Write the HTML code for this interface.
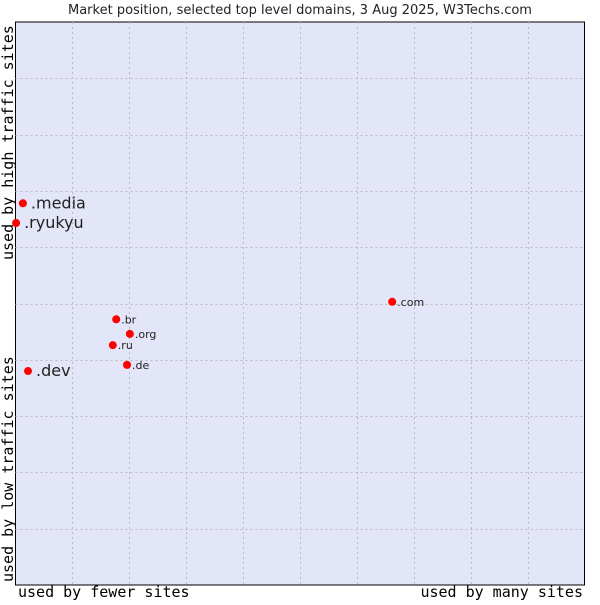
<!DOCTYPE html>
<html><head><meta charset="utf-8"><style>
body{margin:0;background:#fff;}
svg text{font-family:"DejaVu Sans","Liberation Sans",sans-serif;fill:#222;}
.mono{font-family:"DejaVu Sans Mono","Liberation Mono",monospace;font-size:15px;fill:#000;}
</style></head><body>
<svg id="chart" width="600" height="600" xmlns="http://www.w3.org/2000/svg">
<rect width="600" height="600" fill="#fff"/>
<text x="300" y="14" text-anchor="middle" font-size="13">Market position, selected top level domains, 3 Aug 2025, W3Techs.com</text>
<rect x="15.5" y="22" width="569" height="563" fill="#e3e5f8" stroke="#000" stroke-width="1"/>
<g id="grid"></g>
<g id="points"></g>
<text class="mono" x="18" y="597">used by fewer sites</text>
<text class="mono" x="583" y="597" text-anchor="end">used by many sites</text>
<text class="mono" transform="translate(13,260) rotate(-90)">used by high traffic sites</text>
<text class="mono" transform="translate(13,582) rotate(-90)">used by low traffic sites</text>
</svg>
<script>
const labels = [".media", ".ryukyu", ".dev", ".br", ".org", ".ru", ".de", ".com"];
const xValues = [0.13, 0.01, 0.22, 1.77, 2.01, 1.71, 1.96, 6.62];
const yValues = [6.78, 6.43, 3.80, 4.72, 4.46, 4.26, 3.91, 5.03];
const bigLabel = [true, true, true, false, false, false, false, false];
const X0=15.5, X1=584.5, Y0=585, Y1=22;
function sx(v){return X0+(X1-X0)*v/10;}
function sy(v){return Y0-(Y0-Y1)*v/10;}
const NS="http://www.w3.org/2000/svg";
const grid=document.getElementById('grid');
for(let i=1;i<10;i++){
  const v=document.createElementNS(NS,'line');
  
  
  v.setAttribute('x1',Math.round(sx(i))+0.5);v.setAttribute('x2',Math.round(sx(i))+0.5);
  v.setAttribute('y1',Y1);v.setAttribute('y2',Y0);
  v.setAttribute('stroke','#bbb');v.setAttribute('stroke-dasharray','2,3');
  grid.appendChild(v);
  const h=document.createElementNS(NS,'line');
  
  
  h.setAttribute('y1',Math.round(sy(i))+0.5);h.setAttribute('y2',Math.round(sy(i))+0.5);
  h.setAttribute('x1',X0);h.setAttribute('x2',X1);
  h.setAttribute('stroke','#bbb');h.setAttribute('stroke-dasharray','2,3');
  grid.appendChild(h);
}
const pts=document.getElementById('points');
labels.forEach((l,i)=>{
  const x=sx(xValues[i]), y=sy(yValues[i]);
  const c=document.createElementNS(NS,'circle');
  
  
  c.setAttribute('cx',x);c.setAttribute('cy',y);c.setAttribute('r',4);c.setAttribute('fill','#f00');
  pts.appendChild(c);
  const t=document.createElementNS(NS,'text');
  
  
  t.setAttribute('x',x+(bigLabel[i]?8:5));
  t.setAttribute('y',y+(bigLabel[i]?5:4));
  t.setAttribute('font-size',bigLabel[i]?16:11);
  t.textContent=l;
  pts.appendChild(t);
});
</script>
</body></html>
